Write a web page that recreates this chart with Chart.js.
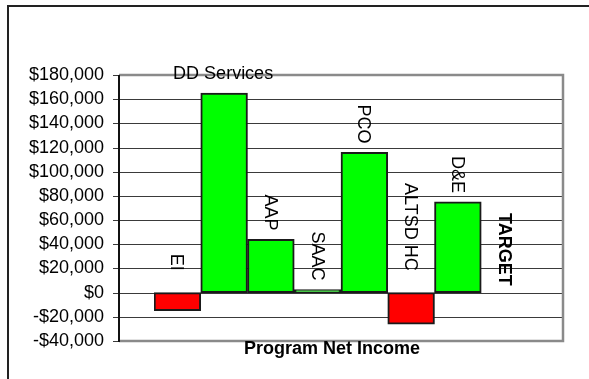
<!DOCTYPE html>
<html>
<head>
<meta charset="utf-8">
<script src="https://cdn.jsdelivr.net/npm/chart.js@4/dist/chart.umd.min.js"></script>
<style>
  html, body { margin: 0; padding: 0; background: #fff; }
  canvas { display: block; }
</style>
</head>
<body>
<canvas id="chartNetIncome" width="589" height="379"></canvas>
<script>
/* Program Net Income – bar chart per program */
const programs = ["EI", "DD Services", "AAP", "SAAC", "PCO", "ALTSD HC", "D&E", "TARGET"];
const netIncome = [-15000, 165000, 44000, 2500, 116000, -26000, 75000, null];
const axisMin = -40000;
const axisMax = 180000;
const axisStep = 20000;
const axisTitle = "Program Net Income";

const FONT = "'Liberation Sans', Arial, Helvetica, sans-serif";
const SIDE_GAP = 35; // plot box extends past the first/last category

Chart.defaults.font.family = FONT;
Chart.defaults.color = "#000";

function money(v) {
  const s = "$" + Math.abs(v).toLocaleString("en-US");
  return v < 0 ? "-" + s : s;
}

// outer frame, plot box, grid lines and the y axis line
const plotFrame = {
  id: "plotFrame",
  beforeDraw(chart) {
    const ctx = chart.ctx;
    ctx.save();
    ctx.strokeStyle = "#222";
    ctx.lineWidth = 2;
    ctx.beginPath();
    ctx.moveTo(8, chart.height);
    ctx.lineTo(8, 6);
    ctx.lineTo(chart.width, 6);
    ctx.stroke();
    ctx.restore();
  },
  beforeDatasetsDraw(chart) {
    const { ctx, chartArea, scales } = chart;
    const y = scales.y;
    const left = chartArea.left - SIDE_GAP;
    const right = chartArea.right + SIDE_GAP;
    ctx.save();
    ctx.strokeStyle = "#3a3a3a";
    ctx.lineWidth = 1;
    y.ticks.forEach((t) => {
      const py = Math.round(y.getPixelForValue(t.value)) + 0.5;
      ctx.beginPath();
      if (t.value > axisMin && t.value < axisMax) {
        ctx.moveTo(left, py);
        ctx.lineTo(right, py);
      }
      ctx.moveTo(left - 6, py);
      ctx.lineTo(left, py);
      ctx.stroke();
    });
    ctx.restore();
  },
  afterDatasetsDraw(chart) {
    const { ctx, chartArea, scales } = chart;
    const x = scales.x, y = scales.y;
    const left = chartArea.left - SIDE_GAP;
    const right = chartArea.right + SIDE_GAP;
    const top = y.getPixelForValue(axisMax);
    const bottom = y.getPixelForValue(axisMin);
    const zero = y.getPixelForValue(0);

    ctx.save();
    // grey plot border
    ctx.strokeStyle = "#8a8a8a";
    ctx.lineWidth = 2.5;
    ctx.beginPath();
    ctx.moveTo(left, top);
    ctx.lineTo(right, top);
    ctx.lineTo(right, bottom);
    ctx.lineTo(left, bottom);
    ctx.stroke();
    // y axis line
    ctx.strokeStyle = "#111";
    ctx.lineWidth = 2;
    ctx.beginPath();
    ctx.moveTo(left, top);
    ctx.lineTo(left, bottom + 1);
    ctx.stroke();

    // category labels above each bar
    ctx.fillStyle = "#000";
    programs.forEach((name, i) => {
      const v = netIncome[i];
      const cx = x.getPixelForValue(i) - 1;
      ctx.font = (v === null ? "bold " : "") + "18px " + FONT;
      const w = ctx.measureText(name).width;
      let end;
      if (v === null) end = zero - 7;
      else if (v < 0) end = zero - 22;
      else end = y.getPixelForValue(v) - 9;

      if (end - w < top) {
        // not enough room to stand it up: lay it flat
        ctx.textAlign = "center";
        ctx.textBaseline = "alphabetic";
        ctx.fillText(name, cx, y.getPixelForValue(v) - 14);
        return;
      }
      ctx.save();
      ctx.translate(cx, end);
      ctx.rotate(Math.PI / 2);
      ctx.textAlign = "right";
      ctx.textBaseline = "middle";
      ctx.fillText(name, 0, 0);
      ctx.restore();
    });

    // axis title
    ctx.font = "bold 18px " + FONT;
    ctx.textAlign = "center";
    ctx.textBaseline = "alphabetic";
    ctx.fillText(axisTitle, (left + right) / 2 - 9, bottom + 13);
    ctx.restore();
  },
};

new Chart(document.getElementById("chartNetIncome").getContext("2d"), {
  type: "bar",
  data: {
    labels: programs,
    datasets: [
      {
        label: axisTitle,
        data: netIncome,
        backgroundColor: netIncome.map((v) => (v < 0 ? "#ff0000" : "#00ff00")),
        borderColor: "#1a1a1a",
        borderWidth: 2,
        borderSkipped: false,
        barPercentage: 1,
        categoryPercentage: 1,
      },
    ],
  },
  options: {
    responsive: false,
    animation: false,
    layout: { padding: { top: 75, bottom: 38, left: 0, right: 61 } },
    plugins: { legend: { display: false }, tooltip: { enabled: false } },
    scales: {
      x: { display: false, offset: true },
      y: {
        min: axisMin,
        max: axisMax,
        grid: { display: false },
        border: { display: false },
        afterFit: (scale) => {
          // labels sit well left of the bars; keep the big tick padding
          // from eating into the vertical space
          scale.width = 154;
          scale.paddingTop = 12;
          scale.paddingBottom = 12;
        },
        ticks: {
          stepSize: axisStep,
          autoSkip: false,
          padding: 42,
          font: { size: 18 },
          color: "#000",
          callback: (v) => money(v),
        },
      },
    },
  },
  plugins: [plotFrame],
});
</script>
</body>
</html>
